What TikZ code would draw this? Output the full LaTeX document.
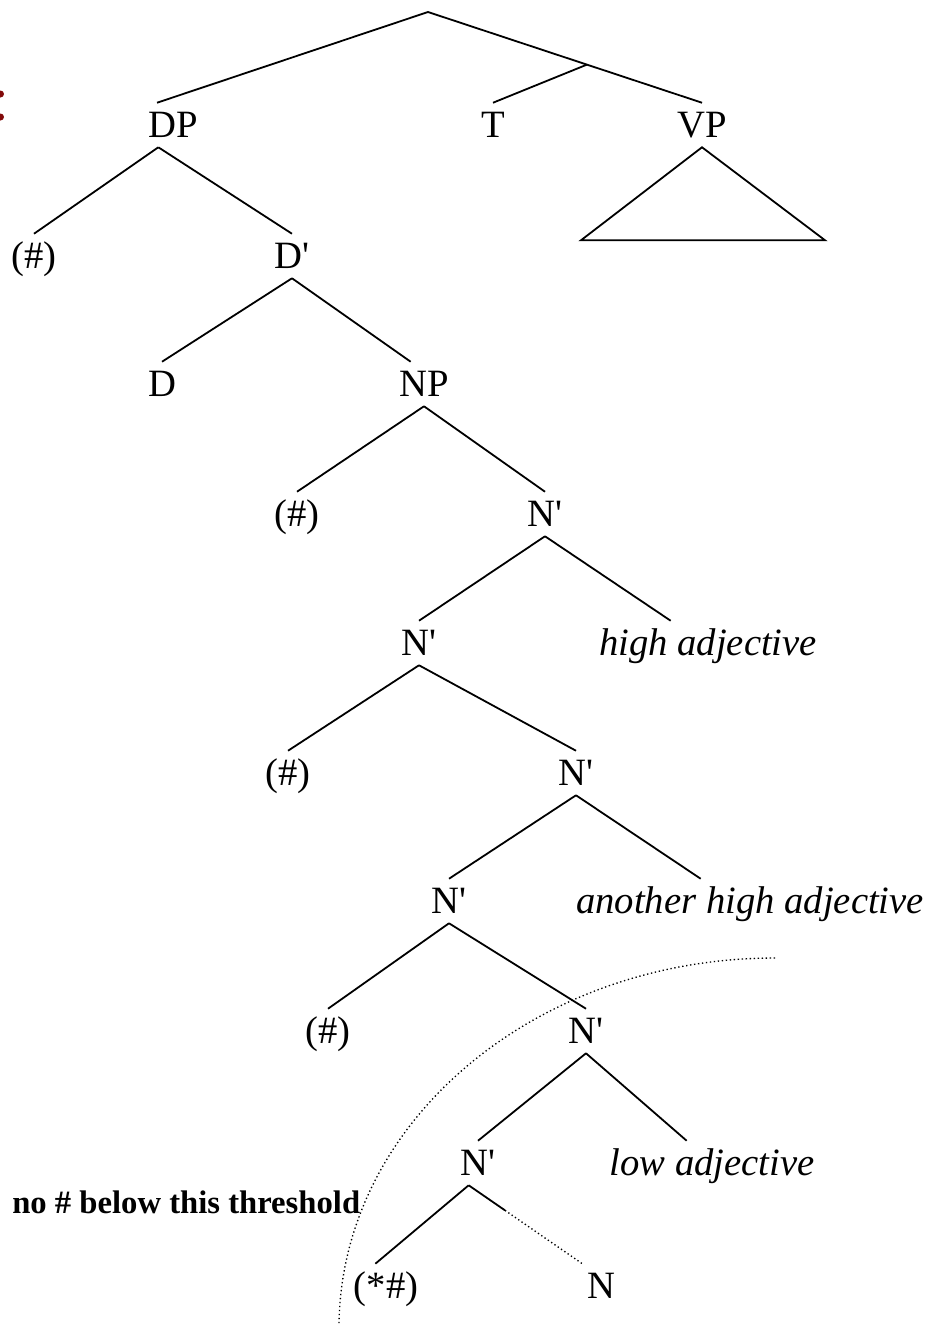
\documentclass[tikz,border=0pt]{standalone}
\usepackage{fontspec}
\setmainfont{Liberation Serif}[Ligatures=TeXOff]
\definecolor{markred}{RGB}{130,10,10}

\begin{document}
\begin{tikzpicture}[x=0.75pt, y=-0.75pt, every node/.style={font=\fontsize{29}{34}\selectfont}, cat/.style={inner sep=0pt, text height=25.5pt, text depth=7.5pt, anchor=base}, adj/.style={cat, font=\fontsize{29}{34}\selectfont\itshape}, branch/.style={line width=1.35pt}]
	\useasboundingbox (0,0) rectangle (932,1325);
	\fill[markred] (0.5,94) circle (3.5);
	\fill[markred] (0.5,117) circle (3.5);
	\node[cat] (DP) at (173,137) {DP};
	\node[cat] (T) at (493,137) {T};
	\node[cat] (VP) at (702,137) {VP};
	\node[cat] (hashA) at (34,268) {(\#)};
	\node[cat] (Dbar) at (292,268) {D'};
	\node[cat] (D) at (162,396) {D};
	\node[cat] (NP) at (424,396) {NP};
	\node[cat] (hashB) at (297,526) {(\#)};
	\node[cat] (NbarA) at (545,526) {N'};
	\node[cat] (NbarB) at (419,655) {N'};
	\node[adj] (adjHigh) at (708,655) {high adjective};
	\node[cat] (hashC) at (288,785) {(\#)};
	\node[cat] (NbarC) at (576,785) {N'};
	\node[cat] (NbarD) at (449,913) {N'};
	\node[adj] (adjAnother) at (750,913) {another high adjective};
	\node[cat] (hashD) at (328,1043) {(\#)};
	\node[cat] (NbarE) at (586,1043) {N'};
	\node[cat] (NbarF) at (478,1175) {N'};
	\node[adj] (adjLow) at (712,1175) {low adjective};
	\node[cat] (hashE) at (386,1298) {(*\#)};
	\node[cat] (N) at (601,1298) {N};
	\node[font=\fontsize{24.5}{28}\selectfont\bfseries, inner sep=0pt, anchor=base west] (threshold) at (12,1213) {no \# below this threshold};
	\coordinate (root) at (428,12);
	\path (root) -- (VP.north) coordinate[pos=0.58] (Tjoin);
	\draw[branch] ([xshift=-12pt]DP.north) -- (root) -- (VP.north);
	\draw[branch] (T.north) -- (Tjoin);
	\draw[branch] (VP.south) -- ++(-121,93) -- ++(244,0) -- cycle;
	\draw[branch] ([xshift=-11pt]DP.south) -- (hashA.north);
	\draw[branch] ([xshift=-11pt]DP.south) -- (Dbar.north);
	\draw[branch] (Dbar.south) -- ([xshift=-10pt]NP.north);
	\foreach \a/\b in {Dbar/D, NP/hashB, NP/NbarA, NbarA/NbarB, NbarB/hashC, NbarB/NbarC, NbarC/NbarD, NbarD/hashD, NbarD/NbarE, NbarE/NbarF}
		\draw[branch] (\a.south) -- (\b.north);
	\draw[branch] (NbarA.south) -- ([xshift=-28pt]adjHigh.north);
	\draw[branch] (NbarC.south) -- ([xshift=-37pt]adjAnother.north);
	\draw[branch] (NbarE.south) -- ([xshift=-19pt]adjLow.north);
	\draw[branch] ([xshift=-7pt]NbarF.south) -- ([xshift=-8pt]hashE.north);
	\path ([xshift=-7pt]NbarF.south) -- ([xshift=-14pt]N.north) coordinate[pos=0.32] (Nbreak);
	\draw[branch] ([xshift=-7pt]NbarF.south) -- (Nbreak);
	\draw[dotted, line width=1pt] (Nbreak) -- ([xshift=-14pt]N.north);
	\draw[dotted, line width=1pt] (775,958) arc[start angle=270, end angle=180, x radius=436, y radius=370];
\end{tikzpicture}
\end{document}
